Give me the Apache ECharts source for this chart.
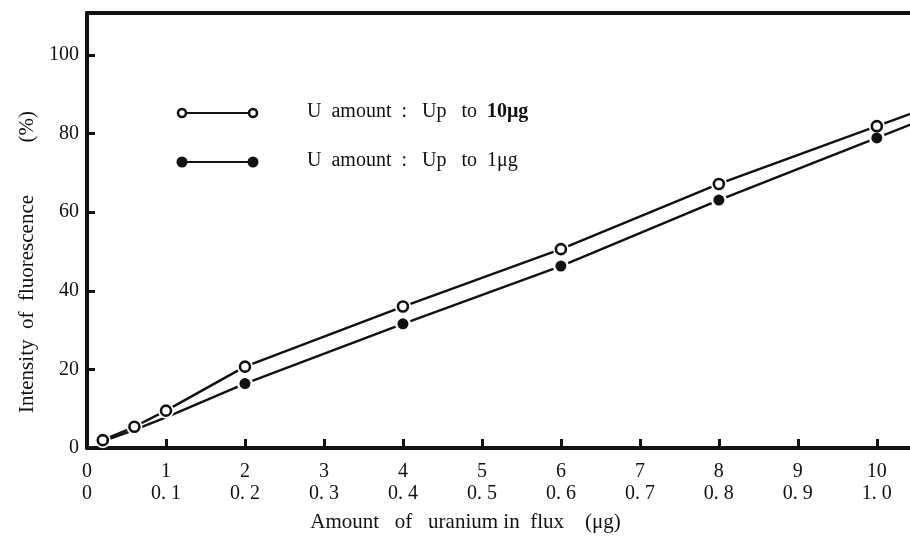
<!DOCTYPE html>
<html>
<head>
<meta charset="utf-8">
<script src="https://cdn.jsdelivr.net/npm/echarts@6/dist/echarts.min.js"></script>
<style>
html,body{margin:0;padding:0;background:#fff;}
#main{width:910px;height:539px;}
</style>
</head>
<body>
<div id="main"></div>
<script>
// ---- data ----
const xTicks = [0, 1, 2, 3, 4, 5, 6, 7, 8, 9, 10];
const xLabelsUg = ['0', '1', '2', '3', '4', '5', '6', '7', '8', '9', '10'];
const xLabelsFrac = ['0', '0. 1', '0. 2', '0. 3', '0. 4', '0. 5', '0. 6', '0. 7', '0. 8', '0. 9', '1. 0'];
const yTicks = [0, 20, 40, 60, 80, 100];

// Series "Up to 10 µg" (open circles)
const up10X = [0.2, 0.6, 1, 2, 4, 6, 8, 10];
const up10Y = [2, 5.4, 9.5, 20.7, 36, 50.6, 67.2, 81.9];
// drawn curve for it (extends past the last point)
const up10CurveX = [0.2, 0.6, 1, 2, 4, 6, 8, 10, 10.5];
const up10CurveY = [2, 5.4, 9.5, 20.7, 36, 50.6, 67.2, 81.9, 85.6];

// Series "Up to 1 µg" (filled circles)
const up1X = [2, 4, 6, 8, 10];
const up1Y = [16.4, 31.6, 46.3, 63.1, 78.9];
const up1CurveX = [0.13, 0.6, 1, 2, 4, 6, 8, 10, 10.5];
const up1CurveY = [1.2, 4.6, 7.8, 16.4, 31.6, 46.3, 63.1, 78.9, 82.9];

const legendNames = ['U  amount  :   Up   to  ', 'U  amount  :   Up   to  '];
const legendUnits = ['10μg', '1μg'];

const zip = (a, b) => a.map((v, i) => [v, b[i]]);
const INK = '#111';
const FONT = '"Liberation Serif", "DejaVu Serif", serif';

const chart = echarts.init(document.getElementById('main'), null, {renderer: 'canvas'});

const option = {
  backgroundColor: '#fff',
  animation: false,
  grid: {left: 87, top: 13, right: 0, bottom: 91, containLabel: false},
  xAxis: [{
    type: 'value', min: 0, max: 10.42, interval: 1,
    axisLine: {show: true, onZero: false, lineStyle: {color: INK, width: 4}},
    axisTick: {show: true, inside: true, length: 9, lineStyle: {color: INK, width: 3}},
    splitLine: {show: false},
    axisLabel: {
      show: true, margin: 13, color: INK, fontFamily: FONT, fontSize: 20, lineHeight: 22,
      showMaxLabel: false,
      formatter: function (v) {
        const i = xTicks.indexOf(Math.round(v * 1000) / 1000);
        return i < 0 ? '' : xLabelsUg[i] + '\n' + xLabelsFrac[i];
      }
    },
    name: 'Amount   of   uranium in  flux    (μg)',
    nameLocation: 'middle', nameGap: 64,
    nameTextStyle: {color: INK, fontFamily: FONT, fontSize: 21, padding: [0, 66, 0, 0]}
  }, {
    type: 'value', position: 'top', min: 0, max: 10.42,
    axisLine: {show: true, onZero: false, lineStyle: {color: INK, width: 4}},
    axisTick: {show: false}, axisLabel: {show: false}, splitLine: {show: false}
  }],
  yAxis: {
    type: 'value', min: 0, max: 110.7, interval: 20,
    axisLine: {show: true, onZero: false, lineStyle: {color: INK, width: 4}},
    axisTick: {show: true, inside: true, length: 8, lineStyle: {color: INK, width: 3}},
    splitLine: {show: false},
    axisLabel: {
      margin: 8, color: INK, fontFamily: FONT, fontSize: 20, showMaxLabel: false,
      formatter: function (v) { return yTicks.indexOf(Math.round(v)) >= 0 && Math.abs(v - Math.round(v)) < 1e-6 ? String(Math.round(v)) : ''; }
    },
    name: 'Intensity  of  fluorescence          (%)',
    nameLocation: 'middle', nameGap: 47,
    nameTextStyle: {color: INK, fontFamily: FONT, fontSize: 21, padding: [0, 63, 0, 0]}
  },
  series: [
    {
      name: 'up10 curve', type: 'line', data: zip(up10CurveX, up10CurveY),
      symbol: 'none', lineStyle: {color: INK, width: 2.4}, z: 2, silent: true
    },
    {
      name: 'up1 curve', type: 'line', data: zip(up1CurveX, up1CurveY),
      symbol: 'none', lineStyle: {color: INK, width: 2.4}, z: 2, silent: true
    },
    {
      name: 'halo10', type: 'scatter', data: zip(up10X, up10Y),
      symbol: 'circle', symbolSize: 16, itemStyle: {color: '#fff', opacity: 1}, z: 3, silent: true
    },
    {
      name: 'halo1', type: 'scatter', data: zip(up1X, up1Y),
      symbol: 'circle', symbolSize: 16, itemStyle: {color: '#fff', opacity: 1}, z: 3, silent: true
    },
    {
      name: 'U amount: Up to 10μg', type: 'scatter', data: zip(up10X, up10Y),
      symbol: 'circle', symbolSize: 10,
      itemStyle: {color: '#fff', borderColor: INK, borderWidth: 2.6, opacity: 1}, z: 4
    },
    {
      name: 'U amount: Up to 1μg', type: 'scatter', data: zip(up1X, up1Y),
      symbol: 'circle', symbolSize: 11,
      itemStyle: {color: INK, opacity: 1}, z: 4
    }
  ],
  graphic: [
    // legend entry 1 (open circles)
    {type: 'line', shape: {x1: 182, y1: 113, x2: 253, y2: 113}, style: {stroke: INK, lineWidth: 1.8}},
    {type: 'circle', shape: {cx: 182, cy: 113, r: 4}, style: {fill: '#fff', stroke: INK, lineWidth: 2.6}},
    {type: 'circle', shape: {cx: 253, cy: 113, r: 4}, style: {fill: '#fff', stroke: INK, lineWidth: 2.6}},
    {type: 'text', left: 307, top: 102, style: {
      text: '{a|' + legendNames[0] + '}{b|' + legendUnits[0] + '}',
      rich: {a: {fontFamily: FONT, fontSize: 20, fill: INK}, b: {fontFamily: FONT, fontSize: 20, fontWeight: 'bold', fill: INK}}
    }},
    // legend entry 2 (filled circles)
    {type: 'line', shape: {x1: 182, y1: 162, x2: 253, y2: 162}, style: {stroke: INK, lineWidth: 1.8}},
    {type: 'circle', shape: {cx: 182, cy: 162, r: 5.5}, style: {fill: INK}},
    {type: 'circle', shape: {cx: 253, cy: 162, r: 5.5}, style: {fill: INK}},
    {type: 'text', left: 307, top: 151, style: {
      text: '{a|' + legendNames[1] + '}{b|' + legendUnits[1] + '}',
      rich: {a: {fontFamily: FONT, fontSize: 20, fill: INK}, b: {fontFamily: FONT, fontSize: 20, fill: INK}}
    }}
  ]
};
chart.setOption(option);
</script>
</body>
</html>
